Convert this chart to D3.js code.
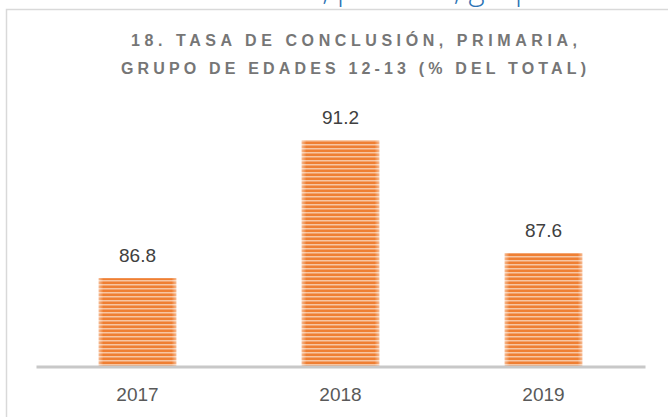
<!DOCTYPE html>
<html>
<head>
<meta charset="utf-8">
<script src="https://cdn.jsdelivr.net/npm/d3@7"></script>
<style>
  body { margin: 0; background: #fff; }
  svg { display: block; }
</style>
</head>
<body>
<div id="grafico"></div>
<script>
const width = 668
const height = 417

// datos
const years = ['2017', '2018', '2019']
const values = [86.8, 91.2, 87.6]
const titleLines = ['18. TASA DE CONCLUSIÓN, PRIMARIA,', 'GRUPO DE EDADES 12-13 (% DEL TOTAL)']
const headingText = '18. Tasa de conclusión, primaria, grupo de edades 12-13 (% del total)'

const svg = d3.select('#grafico').append('svg')
              .attr('width', width)
              .attr('height', height)

// rayas del relleno
const defs = svg.append('defs')
const pat = defs.append('pattern')
                .attr('id', 'rayas')
                .attr('patternUnits', 'userSpaceOnUse')
                .attr('width', 8)
                .attr('height', 4)
pat.append('rect').attr('width', 8).attr('height', 4).attr('fill', '#f7c6a3')
pat.append('rect').attr('y', 1.5).attr('width', 8).attr('height', 2.5).attr('fill', '#ef7f33')

const fade = defs.append('linearGradient').attr('id', 'borde')
fade.append('stop').attr('offset', '0%').attr('stop-color', '#fff').attr('stop-opacity', 0.45)
fade.append('stop').attr('offset', '6%').attr('stop-color', '#fff').attr('stop-opacity', 0)
fade.append('stop').attr('offset', '94%').attr('stop-color', '#fff').attr('stop-opacity', 0)
fade.append('stop').attr('offset', '100%').attr('stop-color', '#fff').attr('stop-opacity', 0.45)

// encabezado azul cortado arriba
const heading = svg.append('text')
                   .attr('y', -0.5)
                   .style('font-family', '"Open Sans", "Liberation Sans", sans-serif')
                   .style('font-weight', 300)
                   .style('font-size', '31px')
                   .attr('fill', '#2e74b5')
                   .text(headingText)
const pIdx = headingText.indexOf('primaria')
const shift = 337 - heading.node().getStartPositionOfChar(pIdx).x
heading.attr('x', shift)

// marco
svg.append('rect')
   .attr('x', 6.5)
   .attr('y', 9.5)
   .attr('width', 700)
   .attr('height', 450)
   .attr('fill', '#fff')
   .attr('stroke', '#d9d9d9')
   .attr('stroke-width', 1.5)

// titulo
const titleY = [46, 73.5]
const titleW = [[131, 577], [121, 586]]
svg.selectAll('.titulo')
   .data(titleLines)
   .enter()
   .append('text')
   .attr('class', 'titulo')
   .attr('x', (d, i) => titleW[i][0])
   .attr('y', (d, i) => titleY[i])
   .attr('textLength', (d, i) => titleW[i][1] - titleW[i][0])
   .attr('lengthAdjust', 'spacing')
   .style('font-family', 'Liberation Sans, Arial, sans-serif')
   .style('font-weight', 'bold')
   .style('font-size', '16px')
   .attr('fill', '#767676')
   .text(d => d)

const x = d3.scaleBand()
            .domain(years)
            .range([36, 645])
            .paddingInner(0.618)
            .paddingOuter(0.309)

const y = d3.scaleLinear()
            .domain([84, 92])
            .range([366, 115])

const barras = svg.selectAll('.barra')
                  .data(values)
                  .enter()
                  .append('g')
                  .attr('class', 'barra')

barras.append('rect')
      .attr('x', (d, i) => x(years[i]))
      .attr('y', d => y(d))
      .attr('width', x.bandwidth())
      .attr('height', d => y(84) - y(d))
      .attr('fill', 'url(#rayas)')

barras.append('rect')
      .attr('x', (d, i) => x(years[i]))
      .attr('y', d => y(d))
      .attr('width', x.bandwidth())
      .attr('height', d => y(84) - y(d))
      .attr('fill', 'url(#borde)')

barras.append('text')
      .attr('x', (d, i) => x(years[i]) + x.bandwidth() / 2)
      .attr('y', d => y(d) - 16)
      .attr('text-anchor', 'middle')
      .style('font-family', 'Liberation Sans, Arial, sans-serif')
      .style('font-size', '19px')
      .attr('fill', '#404040')
      .text(d => d.toFixed(1))

// eje
const eje = svg.append('g')
               .attr('transform', `translate(0, ${y(84) + 0.5})`)
               .call(d3.axisBottom(x).tickSize(0).tickSizeOuter(0))
eje.select('.domain')
   .attr('stroke', '#c8c8c8')
   .attr('stroke-width', 3)
eje.selectAll('text')
   .attr('y', 34)
   .attr('dy', 0)
   .style('font-family', 'Liberation Sans, Arial, sans-serif')
   .style('font-size', '19px')
   .attr('fill', '#595959')
</script>
</body>
</html>
